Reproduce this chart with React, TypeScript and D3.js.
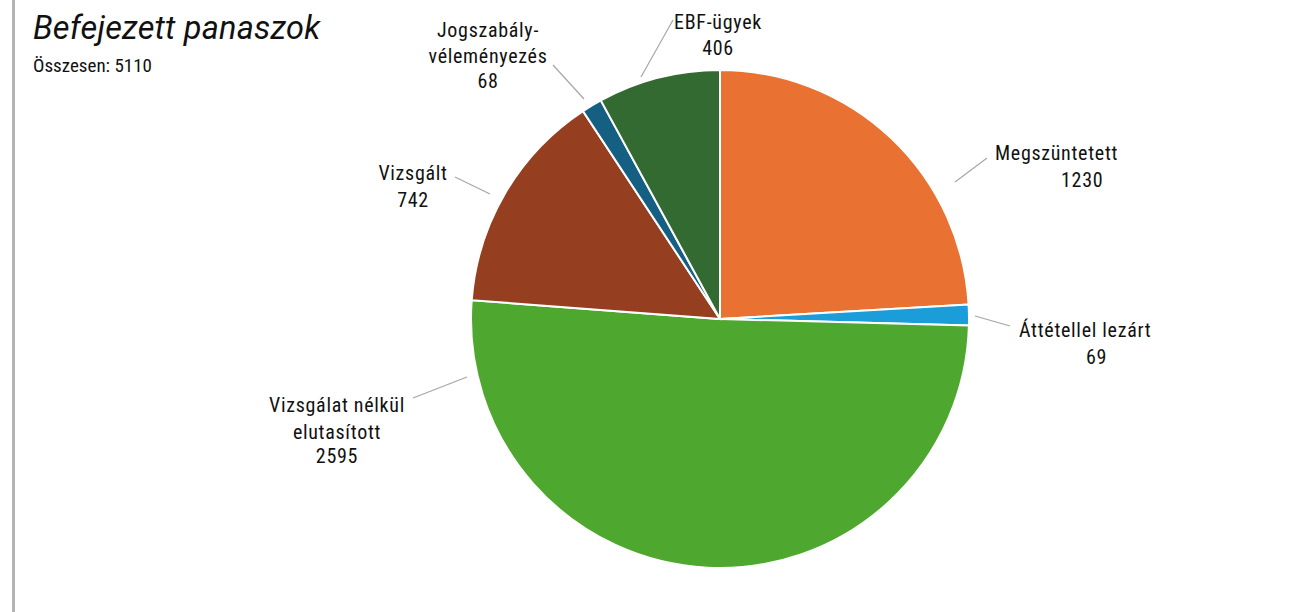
import React from 'react';
import * as d3 from 'd3';

const width = 1296;
const height = 612;
const cx = 720;
const cy = 319;
const radius = 249;

// chart data
const categories = ['Megszüntetett', 'Áttétellel lezárt', 'Vizsgálat nélkül elutasított', 'Vizsgált', 'Jogszabály-véleményezés', 'EBF-ügyek'];
const values = [1230, 69, 2595, 742, 68, 406];
const colors = ['#E97132', '#1A9DD9', '#4EA72E', '#953F20', '#156082', '#336A32'];
const labelLines = [
  ['Megszüntetett', '1230'],
  ['Áttétellel lezárt', '69'],
  ['Vizsgálat nélkül', 'elutasított', '2595'],
  ['Vizsgált', '742'],
  ['Jogszabály-', 'véleményezés', '68'],
  ['EBF-ügyek', '406'],
];

// label layout (relative to pie centre): leader line + text lines
const labelLayout = [
  { leader: [[235, -137], [267, -161]], anchor: 'start', lines: [[275, -159], [341, -132]] },
  { leader: [[255, -3], [290, 7]], anchor: 'start', lines: [[299, 18], [366, 45]] },
  { leader: [[-253, 58], [-307, 79]], anchor: 'middle', lines: [[-383, 93], [-383, 120], [-383, 144]] },
  { leader: [[-230, -125], [-265, -142]], anchor: 'middle', lines: [[-307, -139], [-307, -112]] },
  { leader: [[-136, -220], [-167, -254]], anchor: 'middle', lines: [[-232, -282], [-232, -256], [-232, -231]] },
  { leader: [[-79, -242], [-47, -299]], anchor: 'middle', lines: [[-2, -290], [-2, -264]] },
];

const labelFont = '"Roboto Condensed", Roboto, sans-serif';

const App = () => {
  const total = d3.sum(values);
  const arcs = d3.pie<number>().sort(null).value(d => d)(values);
  const arcGen = d3.arc<d3.PieArcDatum<number>>().innerRadius(0).outerRadius(radius);

  return (
    <svg width={width} height={height} style={{ position: 'absolute', left: 0, top: 0, background: '#fff' }}>
      <rect x={12} y={0} width={3} height={height} fill="#b4b4b4" />
      <text x={33} y={39} fontFamily="Roboto, sans-serif" fontStyle="italic" fontSize={32.5} letterSpacing={0.2} fill="#111">
        Befejezett panaszok
      </text>
      <text x={33} y={72} fontFamily={labelFont} style={{ fontStretch: 'condensed' }} fontSize={19} fill="#111">
        {`Összesen: ${total}`}
      </text>
      <g transform={`translate(${cx},${cy})`}>
        {arcs.map((a, i) => (
          <path key={categories[i]} d={arcGen(a) || ''} fill={colors[i]} stroke="#fff" strokeWidth={2} />
        ))}
        {labelLayout.map((l, i) => (
          <g key={i}>
            <line
              x1={l.leader[0][0]} y1={l.leader[0][1]}
              x2={l.leader[1][0]} y2={l.leader[1][1]}
              stroke="#a6a6a6" strokeWidth={1.2}
            />
            {labelLines[i].map((t, j) => (
              <text
                key={j}
                x={l.lines[j][0]}
                y={l.lines[j][1]}
                textAnchor={l.anchor as any}
                fontFamily={labelFont}
                style={{ fontStretch: 'condensed' }}
                fontSize={20}
                letterSpacing={0.7}
                fill="#111"
              >
                {t}
              </text>
            ))}
          </g>
        ))}
      </g>
    </svg>
  );
};

export default App;
